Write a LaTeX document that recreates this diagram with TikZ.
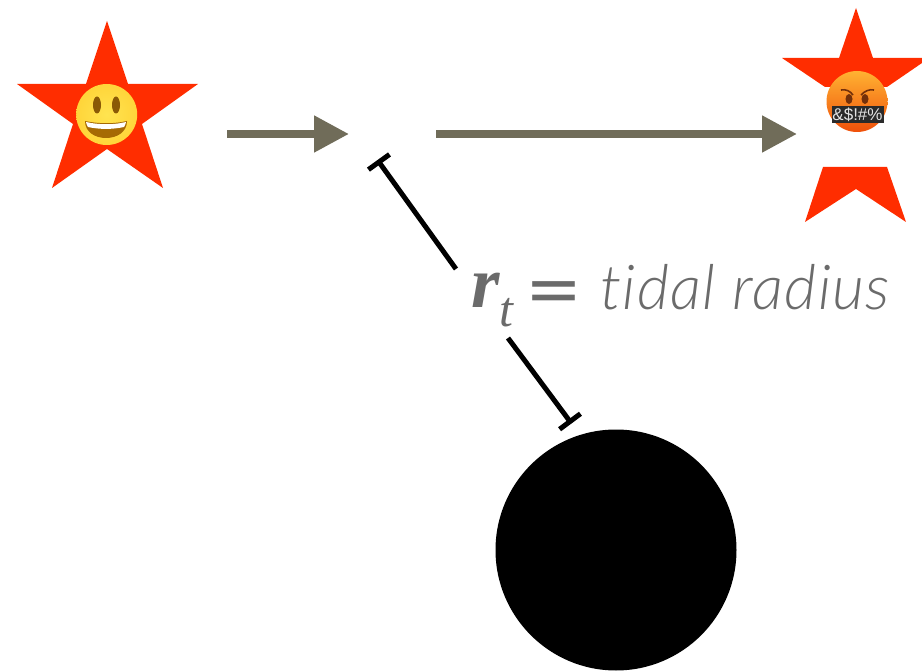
\documentclass[tikz,border=0pt]{standalone}
\usepackage{fontspec}
\usetikzlibrary{arrows.meta,positioning}
\setsansfont{Lato Light}[ItalicFont={Lato Light Italic},ItalicFeatures={LetterSpace=2.2,Ligatures=NoCommon}]
\setmainfont{Liberation Serif}
\definecolor{colStar}    {HTML}{FF2D00}
\definecolor{colArrow}   {HTML}{706C59}
\definecolor{colLabel}   {HTML}{6B6B6B}
\definecolor{colSmileIn} {HTML}{FFE450}
\definecolor{colSmileMid}{HTML}{FFCE30}
\definecolor{colSmileOut}{HTML}{DE9212}
\definecolor{colSmileEye}{HTML}{8A5A06}
\definecolor{colMouth}   {HTML}{A66A04}
\definecolor{colAngryIn} {HTML}{FFB232}
\definecolor{colAngryOut}{HTML}{F0500A}
\definecolor{colAngryEye}{HTML}{74300A}
\definecolor{colGag}     {HTML}{2B2B2B}
\definecolor{colGagText} {HTML}{E4E4E4}
\pgfdeclareradialshading{smileball}{\pgfpointorigin}{%
  color(0bp)=(colSmileIn); color(36bp)=(colSmileMid); color(45bp)=(colSmileMid!75!colSmileOut); color(50bp)=(colSmileOut)}
\tikzset{
  starpart/.style={fill=colStar, draw=none},
  face/.style={circle, minimum size=61pt, inner sep=0pt},
  smileface/.style={face, shading=smileball},
  angryface/.style={face, top color=colAngryIn, bottom color=colAngryOut},
  hole/.style={circle, fill=black, minimum size=241pt, inner sep=0pt},
  mainarr/.style={
    -{Triangle[length=35pt,width=35pt]},
    line width=8pt, draw=colArrow
  },
  tidalarr/.style={{Bar[width=26pt,line width=5pt]}-, line width=5pt, draw=black},
  gagbox/.style={fill=colGag, text=colGagText, minimum width=52pt, minimum height=17pt,
    inner sep=0pt, font=\fontsize{17}{17}\selectfont\fontspec{Liberation Sans}},
  labeltext/.style={anchor=base west, inner sep=0pt, text=colLabel}
}

\begin{document}
\begin{tikzpicture}[x=1pt,y=-1pt]
    \useasboundingbox (0,0) rectangle (922,671);

    % whole star
    \fill[starpart] (107,21) -- (128,84) -- (198,84) -- (142,124) -- (163,188)
      -- (107,149) -- (52,188) -- (73,124) -- (17,84) -- (86,84) -- cycle;
    % torn star
    \fill[starpart] (856,8) -- (873,58) -- (922,58) -- (922,63) -- (887,87)
      -- (825,87) -- (782,58) -- (839,58) -- cycle;
    \fill[starpart] (823,167) -- (887,167) -- (906,222) -- (856,189) -- (805,222) -- cycle;

    \node[smileface] (smile) at (106.7,114.5) {};
    \node[angryface] (angry) at (857,101.5) {};
    \node[hole] (hole) at (616,550) {};

    % smile
    \fill[colSmileEye] (97,105) ellipse (4pt and 8.5pt);
    \fill[colSmileEye] (116,105) ellipse (4pt and 8.5pt);
    \fill[colMouth] (85,121) .. controls (99,124) and (114,124) .. (127,121)
      .. controls (127,132) and (117,138) .. (106,138)
      .. controls (95,138) and (85,132) .. (85,121) -- cycle;
    \fill[white] (86,122) .. controls (99,125) and (114,125) .. (126,122)
      .. controls (125.5,124) and (125,126) .. (124,127)
      .. controls (113,129.5) and (99,129.5) .. (88,127)
      .. controls (87,126) and (86.5,124) .. (86,122) -- cycle;

    % angry
    \fill[colAngryEye] (849,99) ellipse (3.5pt and 5pt);
    \fill[colAngryEye] (865,99) ellipse (3.5pt and 5pt);
    \draw[colAngryEye, line width=1.6pt] (841,90) .. controls (846,89) and (850,91) .. (853,95);
    \draw[colAngryEye, line width=1.6pt] (874,90) .. controls (869,89) and (865,91) .. (861,95);
    \node[gagbox] (gag) at (857.5,114.5) {\&\$!\#\%};

    \coordinate (start) at (227,134);
    \coordinate (midL) at (349,134);
    \coordinate (midR) at (436,134);
    \coordinate (finish) at (797,134);
    \draw[mainarr] (start) -- (midL);
    \draw[mainarr] (midR) -- (finish);

    \node[labeltext, font=\itshape\fontsize{73}{73}\selectfont] (rsym) at (471,308)
      {\textbf{r}\raisebox{-19pt}{\fontsize{50}{50}\selectfont t}};
    \node[labeltext, font=\fontsize{68}{68}\selectfont\fontspec{DejaVu Sans}] (equals) at (525,313) {=};
    \node[labeltext, font=\sffamily\itshape\fontsize{62}{62}\selectfont] (radius) at (600,310) {tidal radius};

    \coordinate (tidalA) at (377.5,160);
    \coordinate (tidalB) at (456,269);
    \coordinate (tidalC) at (571.5,423.5);
    \coordinate (tidalD) at (508,338);
    \draw[tidalarr] (tidalA) -- (tidalB);
    \draw[tidalarr] (tidalC) -- (tidalD);
\end{tikzpicture}
\end{document}
